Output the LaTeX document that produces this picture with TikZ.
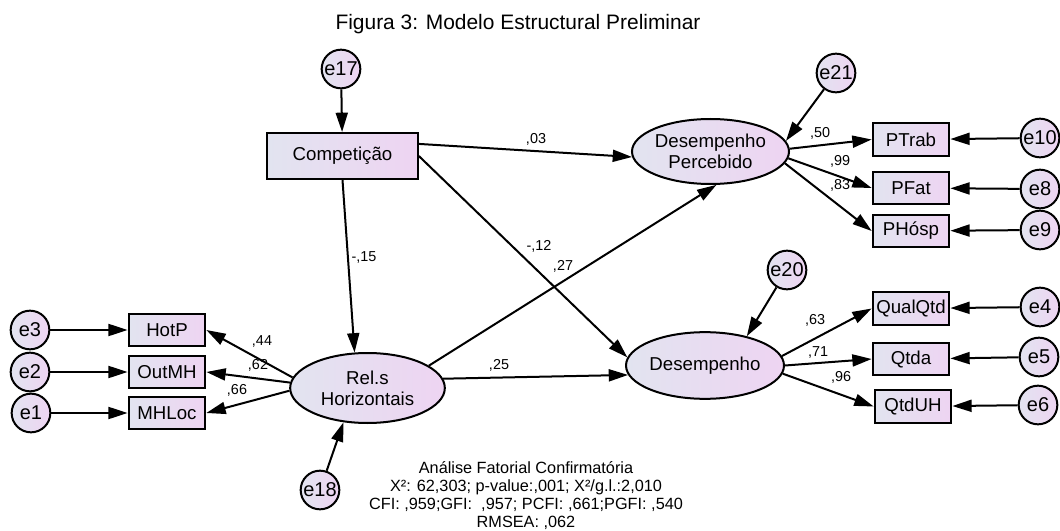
\documentclass[tikz,border=0pt]{standalone}
\usepackage{fontspec}
\setmainfont{Liberation Sans}
\usetikzlibrary{arrows.meta,shapes.geometric,shadings}

\definecolor{fillleft}{RGB}{226,228,240}
\definecolor{fillright}{RGB}{238,212,242}

\tikzset{every picture/.style={line width=1.5pt}}
\tikzset{
  obsvar/.style={draw, rectangle, left color=fillleft, right color=fillright,
    minimum width=57.5pt, minimum height=24.5pt, inner sep=0pt,
    font=\fontsize{14}{16}\selectfont},
  latvar/.style={draw, ellipse, left color=fillleft, right color=fillright,
    inner sep=0pt, align=center, font=\fontsize{14}{15.75}\selectfont},
  errvar/.style={draw, circle, left color=fillleft, right color=fillright,
    minimum size=29pt, inner sep=0pt, font=\fontsize{15}{16}\selectfont},
  coef/.style={inner sep=0pt, font=\fontsize{10.8}{12}\selectfont},
  regpath/.style={-{Triangle[length=14.5pt,width=9pt]}}
}

\begin{document}
\begin{tikzpicture}[x=0.75pt,y=0.75pt,yscale=-1,xscale=1]
	\useasboundingbox (0,0) rectangle (1060,531);

	% Text Node
	\draw (518,24) node (title) [font=\fontsize{15.7}{18}\selectfont] {Figura 3: Modelo Estructural Preliminar};

	%Shape: Rectangle
	\draw (342.5,156) node (comp) [obsvar, minimum width=113pt, minimum height=34.5pt] {Competição};
	% left indicators
	\draw (167,330) node (hotp) [obsvar] {HotP};
	\draw (167,372) node (outmh) [obsvar] {OutMH};
	\draw (167,413) node (mhloc) [obsvar] {MHLoc};
	% right indicators
	\draw (911,139.5) node (ptrab) [obsvar] {PTrab};
	\draw (911,188) node (pfat) [obsvar] {PFat};
	\draw (911,231) node (phosp) [obsvar] {PHósp};
	\draw (911,308.5) node (qualqtd) [obsvar] {QualQtd};
	\draw (911,359) node (qtda) [obsvar] {Qtda};
	\draw (913,406.5) node (qtduh) [obsvar] {QtdUH};

	%Shape: Ellipse
	\draw (710.5,151.5) node (desPerc) [latvar, minimum width=117.75pt, minimum height=48.75pt] {Desempenho\\Percebido};
	\draw (705,365.5) node (desemp) [latvar, minimum width=118.5pt, minimum height=50pt] {Desempenho};
	\draw (367.5,388) node (relH) [latvar, minimum width=116pt, minimum height=52.5pt] {Rel.s\\Horizontais};

	%Shape: Circle
	\draw (341,69) node (e17) [errvar] {e17};
	\draw (836,73) node (e21) [errvar] {e21};
	\draw (787,270) node (e20) [errvar] {e20};
	\draw (320,490) node (e18) [errvar] {e18};
	\draw (30,330) node (e3) [errvar] {e3};
	\draw (30,372) node (e2) [errvar] {e2};
	\draw (31,413) node (e1) [errvar] {e1};
	\draw (1040,138) node (e10) [errvar] {e10};
	\draw (1040,189) node (e8) [errvar] {e8};
	\draw (1040,230) node (e9) [errvar] {e9};
	\draw (1040,307) node (e4) [errvar] {e4};
	\draw (1039,357) node (e5) [errvar] {e5};
	\draw (1038,405) node (e6) [errvar] {e6};

	% structural paths
	\draw [regpath] (e17) -- (comp);
	\draw [regpath] (comp.9) -- (desPerc.184);
	\draw [regpath] (comp.east) -- (desemp.174);
	\draw [regpath] (comp.south) -- (relH.110);
	\draw [regpath] (relH.20) -- (desPerc.-80);
	\draw [regpath] (relH.7) -- (desemp.187);
	\draw [regpath] (e18) -- (relH.-125);
	\draw [regpath] (e21) -- (desPerc.8);
	\draw [regpath] (e20) -- (desemp.35);

	% measurement paths
	\draw [regpath] (relH.172) -- (hotp.east);
	\draw [regpath] (relH.176) -- (outmh.east);
	\draw [regpath] (relH.182) -- (mhloc.east);
	\draw [regpath] (desPerc.2) -- (ptrab.west);
	\draw [regpath] (desPerc.-5) -- (pfat.west);
	\draw [regpath] (desPerc.-9) -- (phosp.west);
	\draw [regpath] (desemp.7) -- (qualqtd.west);
	\draw [regpath] (desemp.0) -- (qtda.west);
	\draw [regpath] (desemp.-6) -- (qtduh.west);

	% error terms
	\draw [regpath] (e3) -- (hotp);
	\draw [regpath] (e2) -- (outmh);
	\draw [regpath] (e1) -- (mhloc);
	\draw [regpath] (e10) -- (ptrab);
	\draw [regpath] (e8) -- (pfat);
	\draw [regpath] (e9) -- (phosp);
	\draw [regpath] (e4) -- (qualqtd);
	\draw [regpath] (e5) -- (qtda);
	\draw [regpath] (e6) -- (qtduh);

	% Text Node
	\draw (536,139) node (k03) [coef] {,03};
	\draw (364,257) node (k15) [coef] {-,15};
	\draw (539,246) node (k12) [coef] {-,12};
	\draw (563,266) node (k27) [coef] {,27};
	\draw (499,365) node (k25) [coef] {,25};
	\draw (262,341) node (k44) [coef] {,44};
	\draw (258,365) node (k62) [coef] {,62};
	\draw (237,390) node (k66) [coef] {,66};
	\draw (820,133) node (k50) [coef] {,50};
	\draw (840,161) node (k99) [coef] {,99};
	\draw (840,185) node (k83) [coef] {,83};
	\draw (815,320) node (k63) [coef] {,63};
	\draw (818,352) node (k71) [coef] {,71};
	\draw (841,377) node (k96) [coef] {,96};

	% Text Node
	\draw (526,496) node (fitidx) [align=center, font=\fontsize{12.2}{13.5}\selectfont] {Análise Fatorial Confirmatória\\X²: 62,303; p-value:,001; X²/g.l.:2,010\\CFI: ,959;GFI:\ \ ,957; PCFI: ,661;PGFI: ,540\\RMSEA: ,062};

\end{tikzpicture}
\end{document}
